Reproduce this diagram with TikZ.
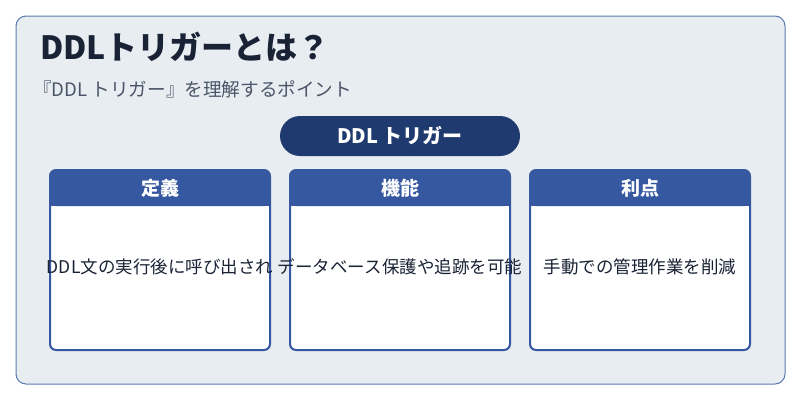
\documentclass[tikz,border=0pt]{standalone}
\usepackage{fontspec}
\setmainfont{Noto Sans CJK JP}
\definecolor{bg}{HTML}{E8EDF2}
\definecolor{frame}{HTML}{5B7BB0}
\definecolor{navy}{HTML}{1E3A6E}
\definecolor{hdr}{HTML}{3558A0}
\definecolor{ttl}{HTML}{1A2335}
\definecolor{sub}{HTML}{4A5568}
\begin{document}
\begin{tikzpicture}[x=1pt,y=-1pt,
  card/.style={draw=hdr,line width=2pt,fill=white,rounded corners=6pt},
  hd/.style={text=white,font=\fontsize{19}{22}\selectfont\bfseries},
  bd/.style={text=ttl,font=\fontsize{17.5}{20}\selectfont}]
\useasboundingbox (0,0) rectangle (800,400);
\draw[fill=bg,draw=frame,line width=1pt,rounded corners=10pt] (16,16) rectangle (785,384);
\node[anchor=west,text=ttl,font=\fontsize{32}{36}\selectfont\bfseries,inner sep=0pt] (title) at (40,47) {DDLトリガーとは？};
\node[anchor=west,text=sub,font=\fontsize{18.6}{20}\selectfont,inner sep=0pt] (subt) at (33,89) {『DDL トリガー』を理解するポイント};
\node[fill=navy,rounded corners=20pt,minimum width=240pt,minimum height=40pt,text=white,font=\fontsize{20}{22}\selectfont\bfseries] (pill) at (400,136) {DDL トリガー};
\foreach \x/\h/\b/\n in {50/定義/DDL文の実行後に呼び出され/a,290/機能/データベース保護や追跡を可能/b,530/利点/手動での管理作業を削減/c}{
  \draw[card] (\x,170) rectangle (\x+220,350);
  \fill[hdr,rounded corners=6pt] (\x,170) rectangle (\x+220,206);
  \fill[hdr] (\x,195) rectangle (\x+220,206);
  \node[hd] (h\n) at (\x+110,188) {\h};
  \node[bd] (t\n) at (\x+110,267) {\b};
}
\end{tikzpicture}
\end{document}
